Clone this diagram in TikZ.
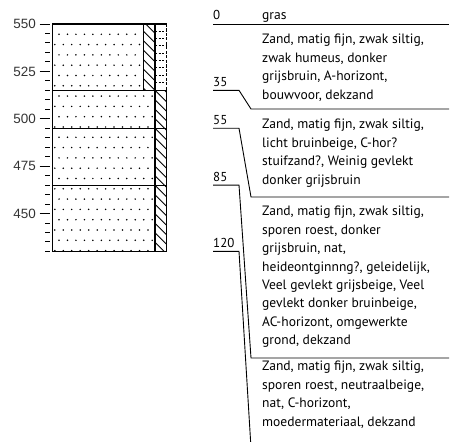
\documentclass[tikz,border=0pt]{standalone}
\usepackage{fontspec}
\setmainfont{Liberation Sans}
\newfontfamily\descfont{PT Sans}
\usetikzlibrary{calc}

\begin{document}
\begin{tikzpicture}[x=1bp,y=-1bp]
  \tikzset{rim/.style = {line width=1.1bp}}
  \tikzset{tick/.style = {line width=0.9bp}}
  \tikzset{depth/.style = {line width=0.9bp}}
  \tikzset{nap/.style = {anchor=east, inner sep=0pt, text=black!80, font=\fontsize{13.5}{13.5}\selectfont}}
  \tikzset{dlabel/.style = {anchor=base west, inner sep=0pt, font=\descfont\fontsize{13}{13}\selectfont}}
  \tikzset{desc/.style = {anchor=north west, inner sep=0pt, align=left,
    font=\descfont\fontsize{13.6}{18.5}\selectfont, execute at begin node=\strut}}

  \useasboundingbox (0,0) rectangle (454,442);

  % elevation scale
  \foreach \h in {430,435,...,550}
    \draw[tick] (45,{24+(550-\h)*1.895}) -- (50,{24+(550-\h)*1.895});
  \foreach \h in {450,475,...,550}
  {
    \draw[tick] (39.5,{24+(550-\h)*1.895}) -- (50,{24+(550-\h)*1.895});
    \node[nap] (h\h) at (36,{24+(550-\h)*1.895}) {\h};
  }

  % sand dots
  \begin{scope}
    \clip (52.7,24) rectangle (143.3,90.3) (52.7,90.3) rectangle (155,251.4);
    \foreach \r in {0,...,21}
      \foreach \c in {0,...,12}
        \fill ({59-mod(\r,2)*4.2+\c*8.47},{34.3+\r*10.3}) circle (0.85);
  \end{scope}

  % humus hatching
  \begin{scope}
    \clip (143.3,24) rectangle (155,90.3) (155,90.3) rectangle (166.7,251.4);
    \foreach \k in {-3,...,26}
      \draw[line width=0.8bp] (143.3,{12+\k*9.5}) -- ++(40,40);
  \end{scope}

  % grass roots
  \foreach \k in {1,...,8}
    \draw[line width=0.8bp,dash pattern=on 2bp off 1.5bp] (155,{24+\k*7.3}) -- (166.7,{24+\k*7.3});

  % column
  \draw[rim] (166.7,90.3) -- (166.7,251.4) -- (52.7,251.4) -- (52.7,24) -- (166.7,24);
  \draw[rim,dash pattern=on 3bp off 1.5bp] (166.7,24) -- (166.7,90.3);
  \foreach \d in {35,55,85}
    \draw[rim] (52.7,{24+\d*1.895}) -- (166.7,{24+\d*1.895});
  \draw[rim] (143.3,24) -- (143.3,90.3);
  \draw[rim] (155,24) -- (155,251.4);

  % depths
  \coordinate (t0) at (213,24);
  \coordinate (e0) at (449,24);
  \node[dlabel] (l0) at ($(t0)+(0,-4)$) {0};
  \draw[depth] (t0) -- (e0);
  \foreach \d/\b in {35/109,55/197,85/358,120/448}
  {
    \coordinate (t\d) at (213,{24+\d*1.895});
    \coordinate (k\d) at (239,{24+\d*1.895});
    \coordinate (s\d) at (251,\b);
    \coordinate (e\d) at (449,\b);
    \node[dlabel] (l\d) at ($(t\d)+(0,-4)$) {\d};
    \draw[depth] (t\d) -- (k\d) -- (s\d) -- (e\d);
  }

  % descriptions (first baseline 12.95 below the node top)
  \node[desc] (gras) at (262,6.05) {gras};
  \node[desc] (a) at (262,34.05) {Zand, matig fijn, zwak siltig,\\zwak humeus, donker\\grijsbruin, A-horizont,\\bouwvoor, dekzand};
  \node[desc] (b) at (262,119.05) {Zand, matig fijn, zwak siltig,\\licht bruinbeige, C-hor?\\stuifzand?, Weinig gevlekt\\donker grijsbruin};
  \node[desc] (c) at (262,206.05) {Zand, matig fijn, zwak siltig,\\sporen roest, donker\\grijsbruin, nat,\\heideontginnng?, geleidelijk,\\Veel gevlekt grijsbeige, Veel\\gevlekt donker bruinbeige,\\AC-horizont, omgewerkte\\grond, dekzand};
  \node[desc] (d) at (262,361.05) {Zand, matig fijn, zwak siltig,\\sporen roest, neutraalbeige,\\nat, C-horizont,\\moedermateriaal, dekzand};
\end{tikzpicture}
\end{document}
